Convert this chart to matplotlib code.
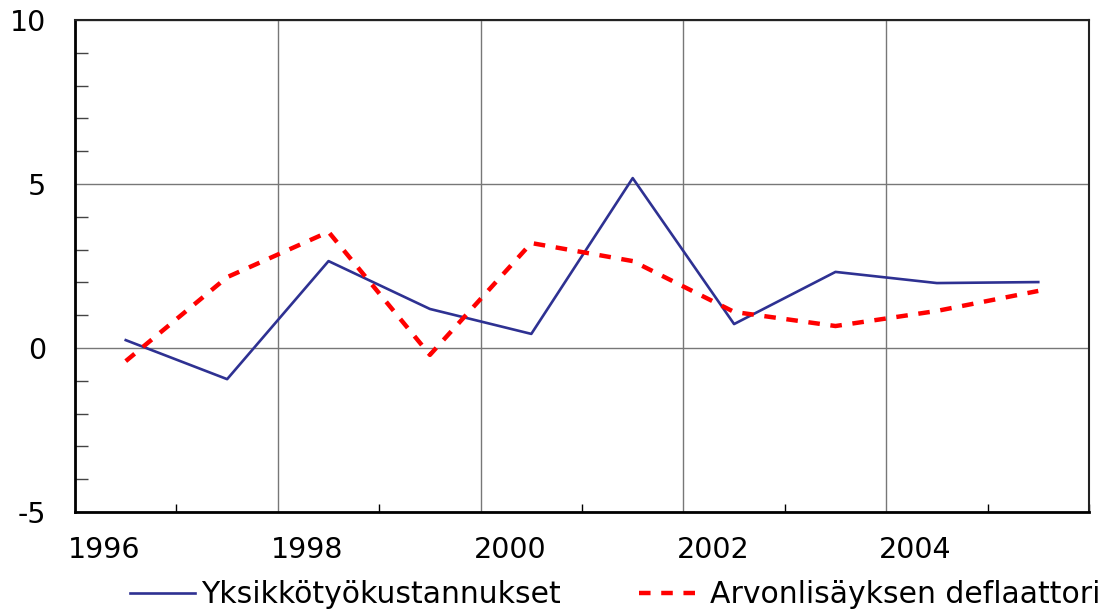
import matplotlib
matplotlib.use("Agg")
from matplotlib import pyplot as plt
from matplotlib.ticker import MultipleLocator
from matplotlib.transforms import ScaledTranslation
import numpy as np

plt.rcParams['font.family'] = ['DejaVu Sans']
plt.rcParams['axes.unicode_minus'] = False

years = [1996.5, 1997.5, 1998.5, 1999.5, 2000.5, 2001.5, 2002.5, 2003.5, 2004.5, 2005.5]
yksikko = [0.24, -0.95, 2.65, 1.19, 0.43, 5.18, 0.73, 2.32, 1.98, 2.01]
deflaattori = [-0.40, 2.16, 3.54, -0.21, 3.20, 2.65, 1.10, 0.67, 1.13, 1.74]
year_ticks = [1996, 1998, 2000, 2002, 2004]
y_ticks = [-5, 0, 5, 10]

fig = plt.figure(figsize=(11.07, 6.12), dpi=100)
ax = fig.add_axes([0.0678, 0.1634, 0.9159, 0.8039])

ax.plot(years, yksikko, color='#2e3192', lw=1.9, label='Yksikkötyökustannukset', zorder=3)
ax.plot(years, deflaattori, color='#ff0000', lw=3.2, ls=(0, (2.6, 2.4)),
        label='Arvonlisäyksen deflaattori', zorder=3)

ax.set_xlim(1996, 2006)
ax.set_ylim(-5, 10)
ax.set_xticks(year_ticks)
ax.set_xticklabels([str(y) for y in year_ticks])
ax.set_yticks(y_ticks)
ax.xaxis.set_minor_locator(MultipleLocator(1))
ax.yaxis.set_minor_locator(MultipleLocator(1))
ax.tick_params(axis='both', which='major', length=0, labelsize=20.5)
ax.tick_params(axis='x', which='major', pad=17)
ax.tick_params(axis='y', which='major', pad=21)
ax.tick_params(axis='x', which='minor', direction='in', length=6, width=1, color='black')
ax.tick_params(axis='y', which='minor', direction='in', length=9, width=1, color='#444444')
ax.grid(True, which='major', color='#777777', lw=1)

# year labels sit to the right of their grid lines
shift = ScaledTranslation(-7 / 100, 0, fig.dpi_scale_trans)
for lab in ax.get_xticklabels():
    lab.set_horizontalalignment('left')
    lab.set_transform(lab.get_transform() + shift)

for side in ['left', 'bottom']:
    ax.spines[side].set_linewidth(2)
    ax.spines[side].set_color('black')
for side in ['top', 'right']:
    ax.spines[side].set_linewidth(1.5)
    ax.spines[side].set_color('#222222')

fig.legend(loc='center left', bbox_to_anchor=(0.117, 0.028), ncol=2, frameon=False,
           fontsize=21.5, handlelength=2.2, handletextpad=0.2, columnspacing=2.6,
           borderaxespad=0, borderpad=0)

fig.savefig('out.png', dpi=100)
